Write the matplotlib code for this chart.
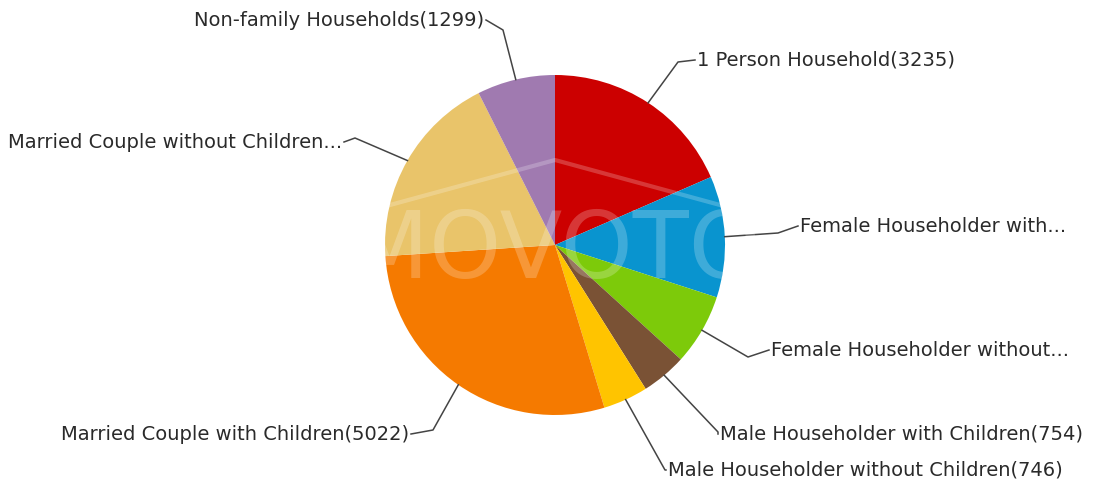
import matplotlib
matplotlib.use("Agg")
import matplotlib.pyplot as plt
import numpy as np

# household types, clockwise from 12 o'clock
labels = ["1 Person Household(3235)", "Female Householder with...",
          "Female Householder without...", "Male Householder with Children(754)",
          "Male Householder without Children(746)", "Married Couple with Children(5022)",
          "Married Couple without Children...", "Non-family Households(1299)"]
values = [3235, 2020, 1185, 754, 746, 5022, 3265, 1299]
colors = ["#cc0000", "#0994cf", "#7dca0a", "#7a5235", "#ffc400",
          "#f57a00", "#e9c46a", "#a07ab0"]

# label layout in pixels from top-left: (elbow x, elbow y, text x, text y, align)
layout = [
    (678, 62, 697, 60, "left"),
    (778, 233, 800, 226, "left"),
    (748, 357, 771, 350, "left"),
    (718, 432, 720, 434, "left"),
    (665, 470, 668, 470, "left"),
    (433, 430, 409, 434, "right"),
    (355, 138, 342, 142, "right"),
    (503, 30, 484, 20, "right"),
]

H = 492
cx, cy, r = 555, H - 245, 170

fig = plt.figure(figsize=(10.96, 4.92), dpi=100)
ax = fig.add_axes([0, 0, 1, 1])

wedges, _ = ax.pie(values, colors=colors, startangle=90, counterclock=False,
                   center=(cx, cy), radius=r, wedgeprops=dict(linewidth=0))
ax.set_xlim(0, 1096)
ax.set_ylim(0, H)
ax.set_aspect("equal")
ax.axis("off")

for w, lab, (ex, ey, tx, ty, ha) in zip(wedges, labels, layout):
    mid = np.deg2rad((w.theta1 + w.theta2) / 2)
    px = cx + r * np.cos(mid)
    py = cy + r * np.sin(mid)
    ax.plot([px, ex, tx - 2 if ha == "left" else tx + 2], [py, H - ey, H - ty],
            color="#444444", lw=1.1)
    ax.text(tx, H - ty, lab, ha=ha, va="center", fontsize=14, color="#2a2a2a",
            family="DejaVu Sans")

# faint watermark
ax.text(cx, H - 252, "MOVOTO", ha="center", va="center", fontsize=66,
        color="white", alpha=0.22, family="DejaVu Sans")
ax.plot([390, 555, 720], [H - 205, H - 160, H - 205], color="white", alpha=0.22, lw=3)

fig.savefig("out.png", dpi=100)
